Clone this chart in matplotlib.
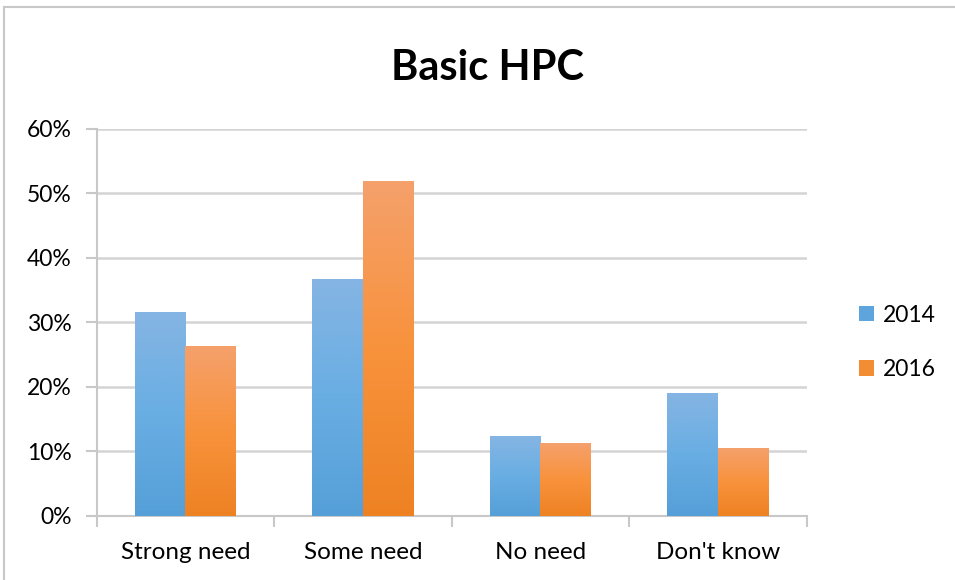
import numpy as np
import matplotlib
matplotlib.use("Agg")
import matplotlib.pyplot as plt
from matplotlib.colors import LinearSegmentedColormap
from matplotlib.ticker import FuncFormatter
from matplotlib.patches import Patch

categories = ["Strong need", "Some need", "No need", "Don't know"]
years = ["2014", "2016"]
vals_2014 = [31.6, 36.7, 12.4, 19.1]
vals_2016 = [26.3, 51.9, 11.2, 10.5]

plt.rcParams['font.family'] = ['Lato', 'DejaVu Sans']

# excel-ish gradients, bottom -> top
blue_cm = LinearSegmentedColormap.from_list("b", ["#559fd8", "#69aee3", "#85b5e3"])
orange_cm = LinearSegmentedColormap.from_list("o", ["#ee8223", "#f8923c", "#f5a16c"])

fig = plt.figure(figsize=(9.55, 5.8), dpi=100)
ax = fig.add_axes([0.1013, 0.1109, 0.7434, 0.6667])

x = np.arange(len(categories))
w = 0.285
series = [(vals_2014, blue_cm), (vals_2016, orange_cm)]
grad = np.linspace(0, 1, 256).reshape(-1, 1)

for i, (vals, cm) in enumerate(series):
    bars = ax.bar(x - w / 2 + i * w, vals, w, color="none", edgecolor="none",
                  zorder=3)
    for b in bars:
        x0 = b.get_x()
        im = ax.imshow(grad, cmap=cm, aspect="auto", origin="lower",
                       extent=[x0, x0 + b.get_width(), 0, b.get_height()], zorder=3)
        im.set_clip_path(b)

ax.set_xlim(-0.5, 3.5)
ax.set_ylim(0, 60)
ax.set_yticks(range(0, 61, 10))
ax.yaxis.set_major_formatter(FuncFormatter(lambda v, p: f"{int(v)}%"))
ax.set_xticks(x)
ax.set_xticklabels(categories)
ax.set_xticks(np.arange(-0.5, 4, 1), minor=True)
ax.tick_params(axis="x", which="major", length=0, pad=19, labelsize=17.5)
ax.tick_params(axis="x", which="minor", length=8, width=1.5, color="#c8c8c8")
ax.tick_params(axis="y", length=8, width=1.5, color="#c8c8c8", pad=10, labelsize=16.5)

ax.grid(axis="y", color="#d4d4d4", linewidth=1.8, zorder=0)
for s in ["top", "right"]:
    ax.spines[s].set_visible(False)
for s in ["left", "bottom"]:
    ax.spines[s].set_color("#c8c8c8")
    ax.spines[s].set_linewidth(1.5)

fig.text(0.51, 0.883, "Basic HPC", ha="center", va="center",
         fontsize=30, fontweight="bold")

handles = [Patch(facecolor="#5fa5dd"), Patch(facecolor="#f38d33")]
ax.legend(handles, years, loc="center left", bbox_to_anchor=(1.045, 0.448),
          frameon=False, fontsize=16.5, handlelength=0.65, handleheight=0.65,
          handletextpad=0.4, labelspacing=1.45)

# chart area border (only top/left visible)
fig.add_artist(plt.Line2D([0.004, 0.004], [0, 0.988], color="#c8c8c8", lw=1.5))
fig.add_artist(plt.Line2D([0.004, 1], [0.988, 0.988], color="#c8c8c8", lw=1.5))

fig.savefig("out.png", dpi=100)
